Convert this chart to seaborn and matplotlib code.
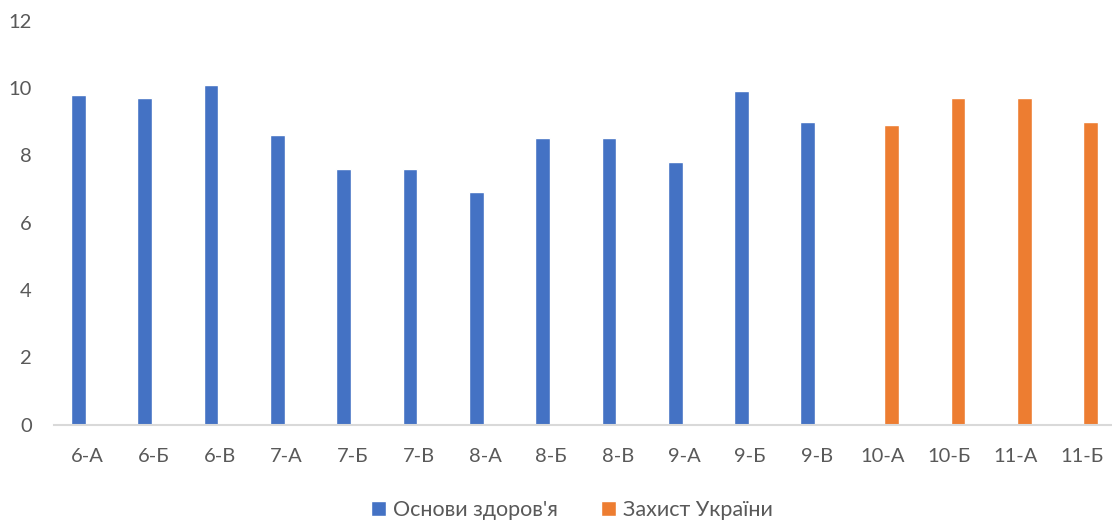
import matplotlib
matplotlib.use("Agg")
import matplotlib.pyplot as plt
import seaborn as sns
import pandas as pd

categories = ["6-А", "6-Б", "6-В", "7-А", "7-Б", "7-В", "8-А", "8-Б", "8-В",
              "9-А", "9-Б", "9-В", "10-А", "10-Б", "11-А", "11-Б"]
series_names = ["Основи здоров'я", "Захист України"]
health_cats = categories[:12]
health_vals = [9.8, 9.7, 10.1, 8.6, 7.6, 7.6, 6.9, 8.5, 8.5, 7.8, 9.9, 9.0]
defense_cats = categories[12:]
defense_vals = [8.9, 9.7, 9.7, 9.0]
colors = ["#4472C4", "#ED7D31"]
yticks = [0, 2, 4, 6, 8, 10, 12]

rows = [(c, series_names[0], v) for c, v in zip(health_cats, health_vals)]
rows += [(c, series_names[1], v) for c, v in zip(defense_cats, defense_vals)]
df = pd.DataFrame(rows, columns=["cls", "series", "value"])

sns.set_theme(style="white")
plt.rcParams["font.family"] = ["Lato", "DejaVu Sans"]

W, H = 1112, 525
fig = plt.figure(figsize=(W / 100, H / 100), dpi=100)
left, right = 54, 1115
top, bottom = 20.7, 424.5
ax = fig.add_axes([left / W, 1 - bottom / H, (right - left) / W, (bottom - top) / H])

sns.barplot(data=df, x="cls", y="value", hue="series", order=categories,
            hue_order=series_names, palette=colors, width=0.525, gap=0.15,
            dodge=True, ax=ax, legend=True, saturation=1)

ax.set_xlim(-0.5, len(categories) - 0.5)
ax.set_ylim(0, 12)
ax.set_yticks(yticks)
ax.set_yticklabels([str(t) for t in yticks])
ax.set_xlabel("")
ax.set_ylabel("")
for s in ["top", "right", "left"]:
    ax.spines[s].set_visible(False)
ax.spines["bottom"].set_color("#D9D9D9")
ax.spines["bottom"].set_linewidth(1.5)
ax.tick_params(axis="both", length=0, labelsize=14.5, colors="#595959")
ax.tick_params(axis="y", pad=16)
ax.tick_params(axis="x", pad=17)
ax.grid(False)

handles, labels = ax.get_legend_handles_labels()
ax.get_legend().remove()
fig.legend(handles, labels, loc="center", bbox_to_anchor=(572 / W, 1 - 510 / H),
           ncol=2, frameon=False, fontsize=15.5, handlelength=0.68,
           handleheight=0.68, handletextpad=0.35, columnspacing=2.0,
           labelcolor="#595959")

fig.savefig("out.png", dpi=100)
